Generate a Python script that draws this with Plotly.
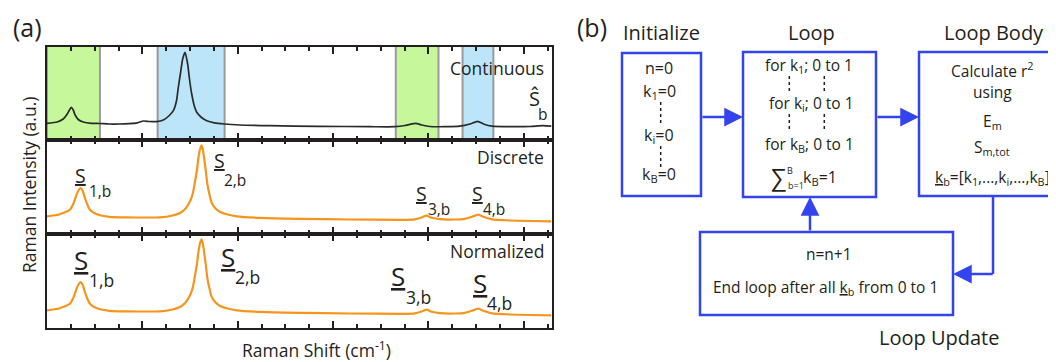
import plotly.graph_objects as go

# page is 1056x362; the browser's default 8px body margin offsets the figure
OFF = 8
W, H = 1056 - OFF, 362 - OFF
FONT = "Open Sans"
TXT = "#231f20"
BLUE = "#3344ee"
ORANGE = "#f7941d"

# ---------------- data ----------------
# x in units of the minor tick spacing of the Raman-shift axis (no tick labels shown)
cont_x = [0, 0.43, 0.68, 0.85, 0.93, 1.02, 1.10, 1.18, 1.31, 1.52, 1.86, 2.19, 2.61, 3.03, 3.45,
          3.79, 4.04, 4.29, 4.59, 4.88, 5.13, 5.30, 5.43, 5.51, 5.60, 5.69, 5.79, 5.90, 5.97, 6.07,
          6.18, 6.28, 6.48, 6.70, 7.02, 7.44, 8.08, 9.34, 11.43, 13.54, 14.59, 15.01, 15.22, 15.47,
          15.72, 16.06, 16.69, 17.32, 17.74, 18.06, 18.33, 18.66, 19.42, 20.26, 20.81, 21.16]
cont_y = [16.7, 18, 21, 26, 29.5, 32.7, 30, 25, 20.5, 18, 16.7, 16.5, 16, 16, 16.4,
          17.2, 19, 18.5, 18.4, 20, 24.5, 29.3, 39, 53, 67, 81, 87.7, 76, 62, 46,
          34, 27.7, 22.5, 19.3, 17.2, 16, 15, 14.3, 13.7, 13.3, 13.3, 14.5, 15.7, 16.7,
          15, 13.5, 13.3, 13.8, 16, 18.7, 15.8, 13.8, 13.3, 13.5, 14.4, 13.8]

disc_x = [0, 0.51, 0.96, 1.10, 1.24, 1.33, 1.41, 1.50, 1.59, 1.69, 1.80, 1.98, 2.22, 2.61, 3.33,
          4.74, 5.22, 5.58, 5.81, 6.00, 6.12, 6.21, 6.29, 6.35, 6.42, 6.48, 6.53, 6.59, 6.66, 6.73,
          6.82, 6.91, 7.07, 7.26, 7.57, 7.96, 8.92, 10.59, 12.69, 14.80, 15.43, 15.68, 15.92, 16.14,
          16.48, 17.12, 17.53, 17.82, 18.09, 18.33, 18.66, 19.42, 20.26, 21.16]
disc_y = [17.7, 19.5, 24.3, 30, 39.3, 44, 46, 43, 36, 29.5, 24.3, 21, 18.7, 17.2, 16.7,
          16.7, 18.2, 21, 25.5, 32.7, 41, 52.7, 64, 76, 85, 88.7, 85, 76, 63, 49.3,
          39, 31, 25.5, 22, 19.5, 17.7, 16.2, 15.2, 14.5, 14.2, 14.7, 16.2, 18.3, 16.2,
          14.8, 14.5, 15.2, 17.2, 19.3, 17, 14.7, 13.5, 13, 12.7]

norm_x = [0, 0.51, 0.96, 1.10, 1.24, 1.33, 1.41, 1.50, 1.59, 1.69, 1.80, 1.98, 2.22, 2.61, 3.33,
          4.74, 5.22, 5.58, 5.81, 6.00, 6.12, 6.21, 6.29, 6.35, 6.42, 6.48, 6.53, 6.59, 6.66, 6.73,
          6.82, 6.91, 7.07, 7.26, 7.57, 7.96, 8.92, 10.59, 12.69, 14.80, 15.43, 15.68, 15.92, 16.14,
          16.48, 17.12, 17.53, 17.82, 18.09, 18.33, 18.66, 19.42, 20.26, 21.16]
norm_y = [17.7, 19.5, 24.3, 30, 39.3, 44, 46, 43, 36, 29.5, 24.3, 21, 18.7, 17.2, 16.7,
          16.7, 18.2, 21, 25.5, 32.7, 41, 52.7, 64, 76, 85, 88.7, 85, 76, 63, 49.3,
          39, 31, 25.5, 22, 19.5, 17.7, 16.2, 15.2, 14.5, 14.2, 14.7, 16.2, 18.3, 16.2,
          14.8, 14.5, 15.2, 17.2, 19.3, 17, 14.7, 13.5, 13, 12.7]

band_start = [0, 4.64, 14.63, 17.43]
band_end = [2.22, 7.45, 16.42, 18.72]
band_kind = ["green", "blue", "green", "blue"]

panel_names = ["Continuous", "Discrete", "Normalized"]
peak_labels = ["1,b", "2,b", "3,b", "4,b"]

init_lines = ["n=0", "k<sub>1</sub>=0", "k<sub>i</sub>=0", "k<sub>B</sub>=0"]
loop_lines = ["for k<sub>1</sub>; 0 to 1", "for k<sub>i</sub>; 0 to 1", "for k<sub>B</sub>; 0 to 1"]
body_lines = ["Calculate r<sup>2</sup>", "using", "E<sub>m</sub>", "S<sub>m,tot</sub>",
              "<u>k</u><sub>b</sub>=[k<sub>1</sub>,...,k<sub>i</sub>,...,k<sub>B</sub>]"]
update_lines = ["n=n+1", "End loop after all <u>k</u><sub>b</sub> from 0 to 1"]
headings = ["Initialize", "Loop", "Loop Body", "Loop Update"]

# ---------------- helpers (page pixel -> paper) ----------------
def X(px):
    return (px - OFF) / W

def Y(py):
    return 1 - (py - OFF) / H

fig = go.Figure()

panels = [(47, 140), (140, 234), (234, 328)]
yr = [[0, 93], [0, 94], [0, 94]]
series = [(cont_x, cont_y, "#2a2a2a", 1.7), (disc_x, disc_y, ORANGE, 2.2), (norm_x, norm_y, ORANGE, 2.2)]

for i, (sx, sy, col, lw) in enumerate(series):
    sfx = "" if i == 0 else str(i + 1)
    fig.add_trace(go.Scatter(x=sx, y=sy, xaxis="x" + sfx, yaxis="y" + sfx, mode="lines",
                             line=dict(color=col, width=lw, shape="spline", smoothing=0.6),
                             hoverinfo="skip", showlegend=False))

layout_axes = {}
for i, (top, bot) in enumerate(panels):
    sfx = "" if i == 0 else str(i + 1)
    layout_axes["xaxis" + sfx] = dict(
        domain=[X(47), X(551.5)], range=[0, 21.16], anchor="y" + sfx,
        showticklabels=False, tickmode="linear", tick0=0, dtick=4, ticks="inside",
        ticklen=7, tickwidth=2, tickcolor=TXT,
        minor=dict(ticks="inside", tickmode="linear", tick0=0, dtick=1, ticklen=4,
                   tickwidth=1.5, tickcolor=TXT, showgrid=False),
        showline=True, linewidth=2, linecolor=TXT, mirror="ticks",
        showgrid=False, zeroline=False, fixedrange=True)
    layout_axes["yaxis" + sfx] = dict(
        domain=[Y(bot), Y(top)], range=yr[i], anchor="x" + sfx,
        showticklabels=False, ticks="", showline=True, linewidth=2, linecolor=TXT,
        mirror=True, showgrid=False, zeroline=False, fixedrange=True)

shapes = []
band_colors = {"green": "#c6f89b", "blue": "#bde5fa"}
for x0, x1, k in zip(band_start, band_end, band_kind):
    shapes.append(dict(type="rect", xref="x", yref="y domain", x0=x0, x1=x1, y0=0, y1=1,
                       fillcolor=band_colors[k], line=dict(width=0), layer="below"))
    for xe in (x0, x1):
        shapes.append(dict(type="line", xref="x", yref="y domain", x0=xe, x1=xe, y0=0, y1=1,
                           line=dict(color="#9a9a9a", width=2), layer="below"))

annotations = []

def text(s, xp, yp, size, xanchor="center", angle=0, color=TXT):
    annotations.append(dict(text=s, x=X(xp), y=Y(yp), xref="paper", yref="paper",
                            showarrow=False, xanchor=xanchor, yanchor="middle",
                            textangle=angle, font=dict(family=FONT, size=size, color=color)))

# ---- panel (a) texts ----
text("(a)", 27, 27, 25)
text(panel_names[0], 546, 67.5, 17.5, xanchor="right")
text(panel_names[1], 546, 157.3, 17.5, xanchor="right")
text(panel_names[2], 546, 251, 17.5, xanchor="right")
text("Ŝ", 534, 98, 20)
text("b", 542.5, 114, 15.5)
text("Raman Intensity (a.u.)", 29, 185, 17.5, angle=-90)
text("Raman Shift (cm<sup>-1</sup>)", 316, 349, 17.5)

# discrete labels
d_S = [(80, 175.5), (219, 160.5), (421, 193.5), (477.5, 193.5)]
d_sub = [(99.5, 191), (235, 180), (438.5, 209), (493.5, 209)]
for (sx, sy), (bx, by), lab in zip(d_S, d_sub, peak_labels):
    text("<u>S</u>", sx, sy, 19.5)
    text(lab, bx, by, 15.5)
# normalized labels
n_S = [(81, 260.5), (227.5, 257), (398, 276.2), (479.7, 282.8)]
n_sub = [(101.5, 280), (247, 276.7), (418.5, 296.7), (499.5, 303.3)]
for (sx, sy), (bx, by), lab in zip(n_S, n_sub, peak_labels):
    text("<u>S</u>", sx, sy, 26)
    text(lab, bx, by, 17.5)

# ---- panel (b) ----
text("(b)", 592, 27, 25)
text(headings[0], 661, 32, 20)
text(headings[1], 811, 32, 20)
text(headings[2], 994, 32, 20)
text(headings[3], 939, 337, 20)

boxes = [(622, 53, 701, 196), (743, 52, 876, 197), (919, 52, 1070, 196), (700, 232, 953, 315)]
for x0, y0, x1, y1 in boxes:
    shapes.append(dict(type="rect", xref="paper", yref="paper", x0=X(x0), x1=X(x1),
                       y0=Y(y1), y1=Y(y0), line=dict(color=BLUE, width=2.5),
                       fillcolor="rgba(0,0,0,0)"))

def dotted(xp, y0, y1):
    shapes.append(dict(type="line", xref="paper", yref="paper", x0=X(xp), x1=X(xp),
                       y0=Y(y0), y1=Y(y1), line=dict(color=TXT, width=1.5, dash="dot")))

for s, yp in zip(init_lines, [68, 91, 135, 175]):
    text(s, 659, yp, 16)
dotted(660.7, 102, 123)
dotted(660.7, 146, 167)

for s, (xp, yp) in zip(loop_lines, [(809, 66), (811, 103.5), (809, 144.5)]):
    text(s, xp, yp, 15.5)
dotted(789.3, 76, 92)
dotted(824.3, 76, 92)
dotted(789.3, 114, 131)
dotted(824.3, 114, 131)
text("∑", 778, 176.5, 24)
text("B", 790, 170.5, 9)
text("b=1", 796, 185, 9)
text("k<sub>B</sub>=1", 820, 177, 16)

for s, yp in zip(body_lines, [70, 92, 121, 147, 177]):
    text(s, 992, yp, 15.5)

text(update_lines[0], 829, 253.5, 15.5)
text(update_lines[1], 825, 287, 15.5)

# connectors
shapes.append(dict(type="line", xref="paper", yref="paper", x0=X(993), x1=X(993),
                   y0=Y(196), y1=Y(274), line=dict(color=BLUE, width=2.5)))

def arrow(tx, ty, hx, hy):
    annotations.append(dict(text="", x=X(hx), y=Y(hy), xref="paper", yref="paper",
                            ax=tx - hx, ay=ty - hy, axref="pixel", ayref="pixel",
                            showarrow=True, arrowhead=2, arrowsize=1.5, arrowwidth=2.5,
                            arrowcolor=BLUE, standoff=0))

arrow(701, 117, 743, 117)
arrow(876, 117, 919, 117)
arrow(810, 232, 810, 197)
arrow(994.2, 274, 953, 274)

fig.update_layout(width=W, height=H, margin=dict(l=0, r=0, t=0, b=0), autosize=False,
                  paper_bgcolor="white", plot_bgcolor="white", showlegend=False,
                  shapes=shapes, annotations=annotations, **layout_axes)

fig.write_html("out.html")
